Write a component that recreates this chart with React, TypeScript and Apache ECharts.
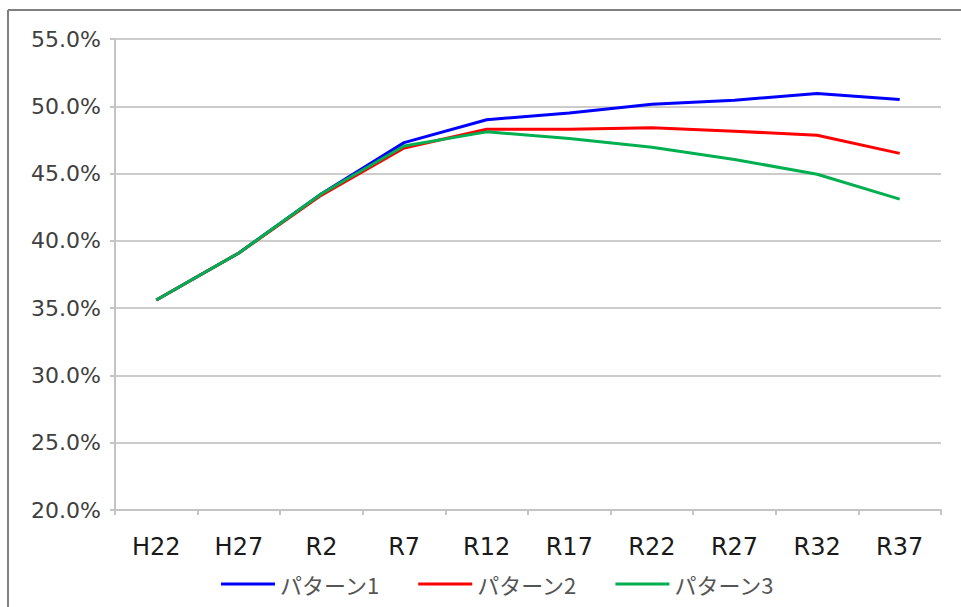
import React, { useEffect, useRef } from "react";
import * as echarts from "echarts";

const categories = ["H22", "H27", "R2", "R7", "R12", "R17", "R22", "R27", "R32", "R37"];
const pattern1 = [35.6, 39.1, 43.5, 47.3, 49.0, 49.5, 50.15, 50.45, 50.95, 50.5];
const pattern2 = [35.6, 39.1, 43.4, 46.9, 48.3, 48.3, 48.4, 48.15, 47.85, 46.5];
const pattern3 = [35.6, 39.1, 43.5, 47.05, 48.1, 47.6, 46.95, 46.05, 44.95, 43.1];
const seriesNames = ["パターン1", "パターン2", "パターン3"];
const seriesColors = ["#0000ff", "#ff0000", "#00b050"];

export default function App() {
  const ref = useRef<HTMLDivElement>(null);

  useEffect(() => {
    if (!ref.current) return;
    const chart = echarts.init(ref.current, null, { renderer: "svg" });
    const values = [pattern1, pattern2, pattern3];
    chart.setOption({
      animation: false,
      backgroundColor: "#ffffff",
      grid: { left: 115, right: 20, top: 39, bottom: 97, containLabel: false },
      legend: {
        data: seriesNames.map((name) => ({ name, icon: "rect" })),
        left: 216,
        top: 568,
        itemWidth: 54,
        itemHeight: 3,
        itemGap: 38,
        textStyle: { fontSize: 22, color: "#555555", fontFamily: "Noto Sans CJK JP" },
      },
      xAxis: {
        type: "category",
        data: categories,
        boundaryGap: true,
        axisLine: { lineStyle: { color: "#c4c4c4", width: 2 } },
        axisTick: { show: true, length: 5, lineStyle: { color: "#c4c4c4", width: 2 } },
        axisLabel: {
          color: "#1a1a1a",
          fontSize: 24,
          fontFamily: "DejaVu Sans",
          margin: 25,
        },
      },
      yAxis: {
        type: "value",
        min: 20,
        max: 55,
        interval: 5,
        axisLine: { show: true, lineStyle: { color: "#c4c4c4", width: 2 } },
        axisTick: { show: true, length: 5, lineStyle: { color: "#c4c4c4", width: 2 } },
        splitLine: { show: true, lineStyle: { color: "#cccccc", width: 2 } },
        axisLabel: {
          color: "#404040",
          fontSize: 22,
          fontFamily: "DejaVu Sans",
          margin: 14,
          formatter: (v: number) => v.toFixed(1) + "%",
        },
      },
      series: values.map((data, i) => ({
        name: seriesNames[i],
        type: "line",
        data,
        symbol: "none",
        smooth: false,
        itemStyle: { color: seriesColors[i] },
        lineStyle: { color: seriesColors[i], width: 3 },
      })),
      graphic: [
        {
          type: "line",
          shape: { x1: 8, y1: 10, x2: 961, y2: 10 },
          style: { stroke: "#808080", lineWidth: 2 },
        },
        {
          type: "line",
          shape: { x1: 8, y1: 10, x2: 8, y2: 607 },
          style: { stroke: "#808080", lineWidth: 2 },
        },
      ],
    });
    return () => chart.dispose();
  }, []);

  return (
    <div
      ref={ref}
      style={{ position: "fixed", left: 0, top: 0, width: 961, height: 607 }}
    />
  );
}
